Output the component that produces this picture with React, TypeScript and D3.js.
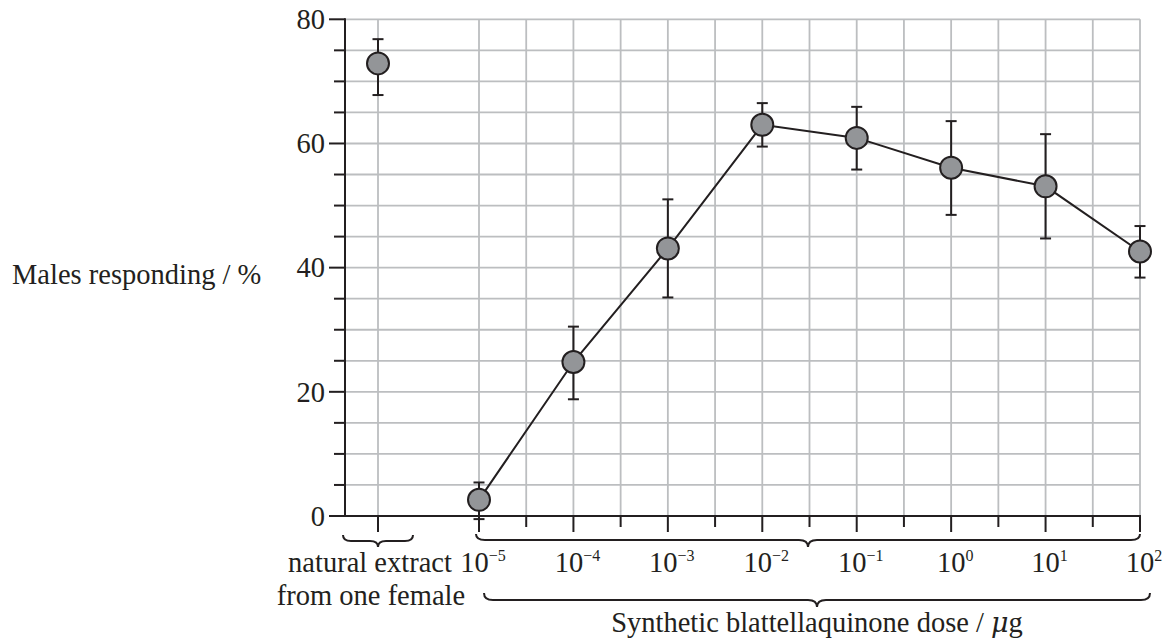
import React from 'react';
import * as d3 from 'd3';

// dose exponents (10^n µg) and responses
const exponents = [-5, -4, -3, -2, -1, 0, 1, 2];
const meanResponse = [2.6, 24.8, 43.1, 63.0, 60.9, 56.1, 53.1, 42.6];
const errLow = [-0.5, 18.8, 35.2, 59.5, 55.8, 48.5, 44.7, 38.4];
const errHigh = [5.4, 30.5, 51.0, 66.5, 65.9, 63.6, 61.5, 46.7];

const naturalLabel = ['natural extract', 'from one female'];
const naturalMean = [72.9];
const naturalLow = [67.8];
const naturalHigh = [76.8];

const yTicks = [0, 20, 40, 60, 80];
const yLabel = 'Males responding / %';
const xLabel = 'Synthetic blattellaquinone dose / ';

const W = 1165;
const H = 643;
const ink = '#231f20';
const gridColor = '#bcbec0';
const font = '"Liberation Serif", "Times New Roman", serif';

const bracePath = (x0: number, x1: number, yEnd: number, yLine: number, yTip: number, r = 9) => {
  const xc = (x0 + x1) / 2;
  return `M${x0},${yEnd} Q${x0},${yLine} ${x0 + r},${yLine} L${xc - r},${yLine} Q${xc},${yLine} ${xc},${yTip} ` +
    `Q${xc},${yLine} ${xc + r},${yLine} L${x1 - r},${yLine} Q${x1},${yLine} ${x1},${yEnd}`;
};

const App = () => {
  const left = 345;
  const right = 1140;
  const top = 19.3;
  const bottom = 516;

  const y = d3.scaleLinear().domain([0, 80]).range([bottom, top]);
  const x = d3.scaleLinear().domain([-5, 2]).range([479, right]);
  const xNat = d3.scalePoint<string>().domain([naturalLabel[0]]).range([left, 411]).padding(0.5);
  const natX = xNat(naturalLabel[0]) as number;

  const minorY = d3.range(5, 81, 5);
  const halfDecades = d3.range(-5, 2.01, 0.5);

  const line = d3.line<number>()
    .x((d, i) => x(exponents[i]))
    .y(d => y(d));

  const cap = 5.5;

  return (
    <div style={{ position: 'absolute', left: 0, top: 0 }}>
      <svg width={W} height={H} style={{ display: 'block', background: '#fff' }} fontFamily={font}>
        {/* grid */}
        <g stroke={gridColor} strokeWidth={1.8}>
          {minorY.map(v => (
            <line key={'h' + v} x1={left} x2={right} y1={y(v)} y2={y(v)} />
          ))}
          <line x1={natX} x2={natX} y1={top} y2={bottom} />
          {halfDecades.map(e => (
            <line key={'v' + e} x1={x(e)} x2={x(e)} y1={top} y2={bottom} />
          ))}
        </g>

        {/* axes */}
        <g stroke={ink} strokeWidth={2}>
          <line x1={left} x2={left} y1={top - 1} y2={bottom + 1} />
          <line x1={left - 1} x2={right + 1} y1={bottom} y2={bottom} />
          {d3.range(0, 81, 5).map(v => (
            <line key={'yt' + v} x1={left - (v % 20 === 0 ? 16 : 11)} x2={left} y1={y(v)} y2={y(v)} />
          ))}
          <line x1={natX} x2={natX} y1={bottom} y2={bottom + 16} />
          {halfDecades.map(e => (
            <line key={'xt' + e} x1={x(e)} x2={x(e)} y1={bottom} y2={bottom + (Number.isInteger(e) ? 16 : 11)} />
          ))}
        </g>

        {/* y tick labels */}
        <g fontSize={28.5} fill={ink} textAnchor="end">
          {yTicks.map(v => (
            <text key={'yl' + v} x={left - 20} y={y(v)} dy="0.34em">{v}</text>
          ))}
        </g>

        {/* x tick labels */}
        <g fontSize={28.5} fill={ink} textAnchor="middle">
          {exponents.map(e => (
            <text key={'xl' + e} x={x(e) + 4} y={572}>
              10<tspan fontSize={16} dy={-11}>{e < 0 ? '\u2212' + Math.abs(e) : e}</tspan>
            </text>
          ))}
          <text x={370} y={572}>{naturalLabel[0]}</text>
          <text x={371} y={605}>{naturalLabel[1]}</text>
          <text x={817} y={632}>
            {xLabel}<tspan fontStyle="italic" fontFamily='"DejaVu Serif", serif' fontSize={27}>μ</tspan>g
          </text>
        </g>
        <text x={12} y={284} fontSize={28.5} fill={ink}>{yLabel}</text>

        {/* braces */}
        <g fill="none" stroke={ink} strokeWidth={2}>
          <path d={bracePath(343, 413, 535, 541, 547, 8)} />
          <path d={bracePath(476, right, 534, 540, 547)} />
          <path d={bracePath(484, 1150, 593, 600, 607)} />
        </g>

        {/* data line */}
        <path d={line(meanResponse) || ''} fill="none" stroke={ink} strokeWidth={2} />

        {/* error bars */}
        <g stroke={ink} strokeWidth={2}>
          {exponents.map((e, i) => (
            <g key={'eb' + e}>
              <line x1={x(e)} x2={x(e)} y1={y(errLow[i])} y2={y(errHigh[i])} />
              <line x1={x(e) - cap} x2={x(e) + cap} y1={y(errLow[i])} y2={y(errLow[i])} />
              <line x1={x(e) - cap} x2={x(e) + cap} y1={y(errHigh[i])} y2={y(errHigh[i])} />
            </g>
          ))}
          {naturalMean.map((m, i) => (
            <g key={'nb' + i}>
              <line x1={natX} x2={natX} y1={y(naturalLow[i])} y2={y(naturalHigh[i])} />
              <line x1={natX - cap} x2={natX + cap} y1={y(naturalLow[i])} y2={y(naturalLow[i])} />
              <line x1={natX - cap} x2={natX + cap} y1={y(naturalHigh[i])} y2={y(naturalHigh[i])} />
            </g>
          ))}
        </g>

        {/* points */}
        <g fill="#939598" stroke={ink} strokeWidth={2}>
          {exponents.map((e, i) => (
            <circle key={'pt' + e} cx={x(e)} cy={y(meanResponse[i])} r={11} />
          ))}
          {naturalMean.map((m, i) => (
            <circle key={'np' + i} cx={natX} cy={y(m)} r={11} />
          ))}
        </g>
      </svg>
    </div>
  );
};

export default App;
